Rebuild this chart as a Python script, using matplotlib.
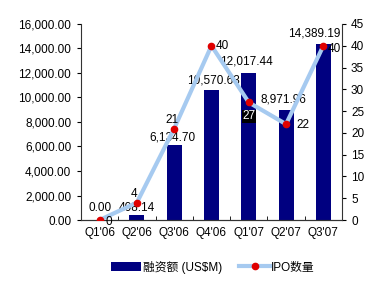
import matplotlib
matplotlib.use("Agg")
import matplotlib.pyplot as plt
from matplotlib.lines import Line2D
from matplotlib.patches import Patch
import numpy as np

plt.rcParams['font.family'] = ['Liberation Sans', 'Noto Sans CJK SC', 'DejaVu Sans']

# data
quarters = ["Q1'06", "Q2'06", "Q3'06", "Q4'06", "Q1'07", "Q2'07", "Q3'07"]
funds = [0.00, 408.14, 6134.70, 10570.63, 12017.44, 8971.96, 14389.19]
ipo_count = [0, 4, 21, 40, 27, 22, 40]
fund_labels = ["0.00", "408.14", "6,134.70", "10,570.63", "12,017.44", "8,971.96", "14,389.19"]

# label offsets (pixels)
fund_off = [(0, 12), (0, 7), (-2, 7), (2, 10), (-2, 11), (-3, 11), (-9, 10)]
count_off = [(9, -2), (-3, 9), (-2, 9), (11, 0), (0, -14), (17, -1), (11, -3)]

fig = plt.figure(figsize=(3.8, 2.85), dpi=100)
ax = fig.add_axes([0.213, 0.228, 0.687, 0.688])
ax2 = ax.twinx()

x = np.arange(len(quarters))
ax.bar(x, funds, width=0.4, color='#000080', zorder=2)
ax.set_xlim(-0.5, len(quarters) - 0.5)
ax.set_ylim(0, 16000)
ax.set_yticks(np.arange(0, 16001, 2000))
ax.set_yticklabels(['{:,.2f}'.format(v) for v in np.arange(0, 16001, 2000)], fontsize=8.5)
ax.set_xticks(x)
ax.set_xticklabels(quarters, fontsize=8.5)
ax.tick_params(axis='x', length=0, pad=5)
ax.set_xticks(np.arange(-0.5, len(quarters)), minor=True)
ax.tick_params(axis='x', which='minor', direction='in', length=3)
ax.tick_params(axis='y', length=3, pad=4)

ax2.plot(x, ipo_count, color='#a6caf0', lw=3, marker='o', markersize=4.5,
         markerfacecolor='#e00000', markeredgecolor='#e00000', zorder=3)
ax2.set_ylim(0, 45)
ax2.set_yticks(np.arange(0, 46, 5))
ax2.tick_params(axis='y', length=3, labelsize=8.5)

for a in (ax, ax2):
    a.spines['top'].set_visible(False)
    a.spines['left'].set_color('#333333')
    a.spines['right'].set_color('#333333')
    a.spines['bottom'].set_color('#333333')
ax.spines['right'].set_visible(False)
ax2.spines['left'].set_visible(False)

for i in range(len(quarters)):
    ax.annotate(fund_labels[i], (x[i], funds[i]), xytext=fund_off[i],
                textcoords='offset pixels', ha='center', va='center', fontsize=8.5, zorder=4)
    if i == 4:
        ax2.annotate(str(ipo_count[i]), (x[i], ipo_count[i]), xytext=count_off[i],
                     textcoords='offset pixels', ha='center', va='center', fontsize=8.5,
                     color='white', bbox=dict(facecolor='black', edgecolor='none', pad=0.2))
    else:
        ax2.annotate(str(ipo_count[i]), (x[i], ipo_count[i]), xytext=count_off[i],
                     textcoords='offset pixels', ha='center', va='center', fontsize=8.5)

handles = [Patch(facecolor='#000080'),
           Line2D([0], [0], color='#a6caf0', lw=3, marker='o', markersize=4.5,
                  markerfacecolor='#e00000', markeredgecolor='#e00000')]
fig.legend(handles, ['融资额 (US$M)', 'IPO数量'], loc='center', bbox_to_anchor=(0.56, 0.063),
           ncol=2, frameon=False, fontsize=8.5, handlelength=2.6, columnspacing=1.5,
           handletextpad=0.1)

fig.savefig('out.png', dpi=100)
